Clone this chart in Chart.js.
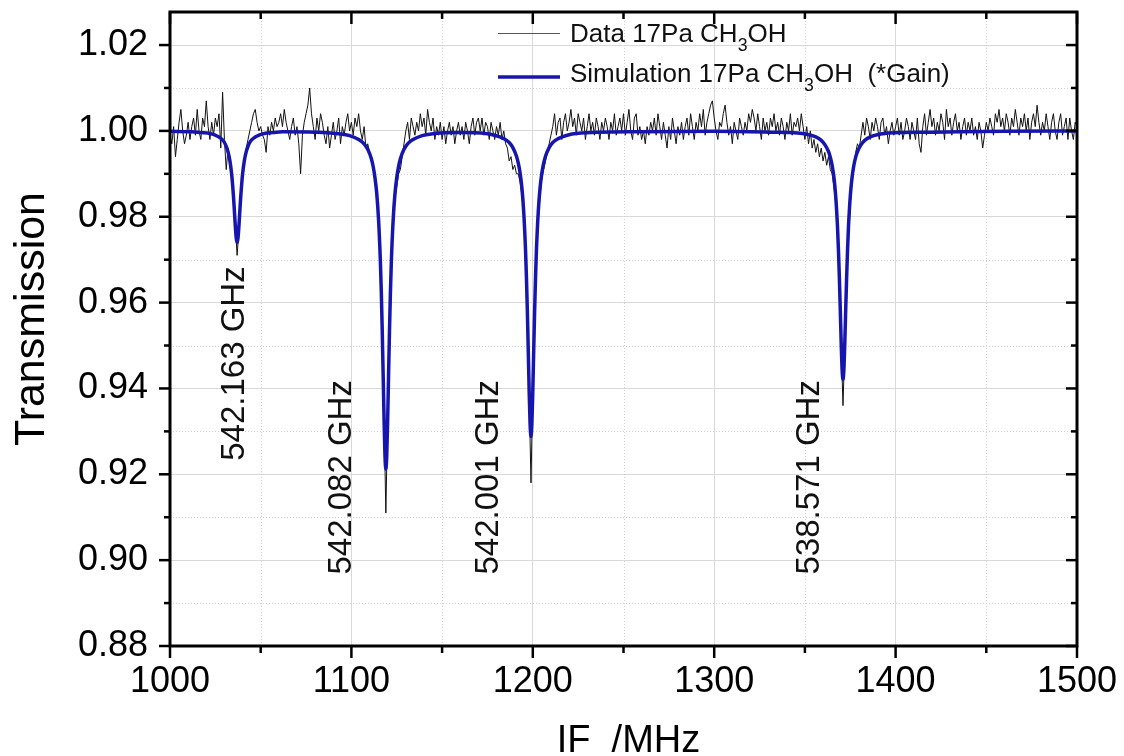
<!DOCTYPE html>
<html>
<head>
<meta charset="utf-8">
<script src="https://cdn.jsdelivr.net/npm/chart.js@4.4.0/dist/chart.umd.min.js"></script>
<style>
  html, body { margin: 0; padding: 0; background: #fff; }
  #chart { display: block; }
</style>
</head>
<body>
<canvas id="chart" width="1124" height="756"></canvas>
<script>
// Measured spectrum: one sample per MHz, 1000 ... 1500 MHz
const dataStart = 1000;
const dataStep = 1;
const dataTransmission = [
  0.999, 0.997, 1.001, 0.994, 0.998, 1.002, 1.005, 1.000, 0.997, 0.999,
  1.002, 0.998, 1.001, 1.003, 0.999, 1.005, 1.000, 0.998, 1.003, 1.001,
  1.007, 1.001, 0.998, 1.002, 0.999, 1.003, 1.001, 1.004, 0.996, 1.009,
  0.998, 0.991, 0.996, 0.992, 0.989, 0.985, 0.978, 0.971, 0.977, 0.985,
  0.989, 0.993, 0.996, 0.998, 1.000, 1.002, 1.004, 1.005, 1.002, 1.000,
  1.001, 0.999, 0.998, 0.995, 1.001, 0.999, 1.002, 1.000, 1.003, 1.001,
  1.002, 1.004, 1.001, 1.005, 1.002, 1.000, 0.998, 1.001, 1.003, 0.999,
  1.001, 0.997, 0.990, 0.999, 1.002, 1.004, 1.006, 1.010, 1.004, 1.001,
  0.998, 1.003, 1.000, 1.004, 1.002, 0.999, 0.997, 1.001, 0.996, 0.999,
  1.002, 0.998, 1.000, 1.003, 0.997, 1.001, 0.999, 1.002, 1.004, 1.000,
  1.002, 0.999, 1.003, 1.001, 1.004, 1.000, 0.998, 1.001, 0.996, 0.997,
  0.995, 0.994, 0.991, 0.988, 0.985, 0.979, 0.969, 0.954, 0.933, 0.911,
  0.934, 0.953, 0.968, 0.977, 0.984, 0.987, 0.990, 0.991, 0.994, 0.997,
  1.000, 1.002, 0.998, 1.003, 1.001, 0.999, 1.002, 1.000, 1.004, 1.001,
  1.003, 0.999, 1.005, 1.002, 1.000, 1.003, 0.998, 1.001, 0.999, 1.002,
  0.998, 1.001, 0.997, 1.000, 1.002, 0.999, 1.001, 0.997, 1.000, 1.002,
  0.999, 1.001, 0.998, 1.002, 1.000, 0.997, 1.001, 1.003, 0.999, 1.002,
  1.003, 1.000, 1.003, 0.999, 1.002, 1.001, 0.998, 1.002, 1.000, 0.998,
  1.001, 0.999, 1.002, 0.998, 1.000, 0.997, 0.996, 0.993, 0.994, 0.991,
  0.992, 0.990, 0.990, 0.988, 0.985, 0.980, 0.971, 0.957, 0.938, 0.918,
  0.940, 0.957, 0.970, 0.979, 0.985, 0.989, 0.991, 0.993, 0.995, 0.997,
  0.999, 1.001, 1.004, 0.999, 1.002, 1.003, 0.998, 1.002, 1.004, 1.000,
  1.002, 1.005, 1.001, 1.003, 0.999, 1.004, 1.002, 1.000, 1.003, 0.998,
  1.001, 1.004, 1.000, 1.002, 0.999, 1.003, 1.001, 0.998, 1.002, 1.000,
  1.003, 1.001, 0.998, 1.002, 1.000, 1.004, 0.999, 1.001, 1.003, 1.000,
  1.004, 0.999, 1.002, 1.005, 1.000, 0.998, 1.003, 1.004, 0.999, 1.001,
  0.998, 1.000, 0.997, 1.001, 0.999, 1.002, 1.000, 1.003, 0.999, 1.004,
  1.001, 0.998, 1.002, 0.999, 0.996, 1.001, 0.998, 1.003, 1.000, 0.997,
  1.001, 0.999, 1.002, 0.998, 1.001, 1.003, 0.999, 1.004, 1.001, 0.998,
  1.002, 1.000, 1.004, 1.001, 1.005, 0.999, 1.002, 1.004, 1.006, 1.007,
  1.003, 1.000, 0.998, 1.002, 1.001, 1.004, 1.006, 1.002, 0.999, 1.001,
  0.997, 1.002, 1.000, 0.998, 1.003, 1.001, 0.999, 1.002, 1.000, 1.004,
  1.002, 1.005, 1.003, 1.000, 1.004, 1.001, 0.998, 1.003, 1.000, 1.002,
  0.999, 1.003, 1.001, 1.004, 1.000, 1.002, 0.999, 1.003, 1.001, 0.998,
  1.002, 1.000, 1.004, 0.999, 1.002, 1.001, 1.003, 1.000, 1.004, 1.001,
  0.998, 1.001, 0.997, 1.000, 0.996, 0.998, 0.995, 0.997, 0.994, 0.996,
  0.993, 0.995, 0.992, 0.994, 0.991, 0.990, 0.987, 0.983, 0.976, 0.964,
  0.950, 0.936, 0.950, 0.964, 0.975, 0.983, 0.988, 0.991, 0.995, 0.997,
  0.996, 0.999, 1.002, 0.999, 1.003, 1.001, 0.998, 1.002, 1.000, 1.003,
  1.001, 0.998, 1.002, 1.003, 0.999, 1.001, 0.997, 1.000, 1.002, 0.999,
  1.001, 1.003, 0.999, 1.002, 0.998, 1.000, 1.003, 1.001, 0.998, 1.002,
  1.000, 0.998, 1.003, 0.997, 0.995, 1.001, 1.004, 0.999, 1.002, 1.005,
  1.001, 1.003, 0.999, 1.002, 1.000, 1.004, 1.002, 0.998, 1.005, 1.001,
  1.003, 0.999, 1.002, 1.004, 1.000, 1.002, 0.998, 1.001, 1.003, 0.999,
  1.002, 1.000, 1.003, 0.999, 1.001, 0.998, 1.002, 1.000, 0.996, 0.999,
  1.002, 1.000, 1.003, 1.001, 0.999, 1.004, 1.002, 1.005, 1.001, 1.003,
  1.000, 1.004, 1.002, 0.999, 1.003, 1.001, 1.005, 1.002, 0.999, 1.003,
  1.001, 1.004, 1.000, 1.003, 0.998, 1.002, 1.004, 1.001, 1.006, 1.002,
  0.999, 1.002, 1.000, 1.004, 1.001, 0.998, 1.002, 1.004, 1.000, 0.998,
  1.002, 1.004, 0.999, 1.001, 1.003, 0.998, 1.003, 1.000, 0.998, 1.002,
  1.001
];

// Simulated profile
const simIF = [
  1000,
  1012, 1017, 1022, 1025, 1027, 1029, 1030, 1031, 1032, 1033, 1034, 1034.5, 1035, 1035.5, 1036, 1036.5,
  1037, 1037.5, 1038, 1038.5, 1039, 1039.5, 1040, 1041, 1042, 1043, 1044, 1045, 1047, 1049, 1052, 1057, 1062,
  1080,
  1094, 1099, 1104, 1107, 1109, 1111, 1112, 1113, 1114, 1115, 1116, 1116.5, 1117, 1117.5, 1118, 1118.5,
  1119, 1119.5, 1120, 1120.5, 1121, 1121.5, 1122, 1123, 1124, 1125, 1126, 1127, 1129, 1131, 1134, 1139, 1144,
  1160,
  1174, 1179, 1184, 1187, 1189, 1191, 1192, 1193, 1194, 1195, 1196, 1196.5, 1197, 1197.5, 1198, 1198.5,
  1199, 1199.5, 1200, 1200.5, 1201, 1201.5, 1202, 1203, 1204, 1205, 1206, 1207, 1209, 1211, 1214, 1219, 1224,
  1260, 1300, 1330,
  1346, 1351, 1356, 1359, 1361, 1363, 1364, 1365, 1366, 1367, 1368, 1368.5, 1369, 1369.5, 1370, 1370.5,
  1371, 1371.5, 1372, 1372.5, 1373, 1373.5, 1374, 1375, 1376, 1377, 1378, 1379, 1381, 1383, 1386, 1391, 1396,
  1420, 1460, 1500
];
const simTransmission = [
  0.9999,
  0.9998, 0.9996, 0.9994, 0.9990, 0.9986, 0.9979, 0.9973, 0.9964, 0.9951, 0.9931, 0.9899, 0.9875, 0.9847, 0.9813, 0.9779, 0.9751,
  0.9740, 0.9751, 0.9779, 0.9813, 0.9847, 0.9875, 0.9899, 0.9931, 0.9951, 0.9964, 0.9973, 0.9979, 0.9986, 0.9990, 0.9994, 0.9996, 0.9998,
  0.9997,
  0.9993, 0.9989, 0.9980, 0.9970, 0.9957, 0.9935, 0.9917, 0.9891, 0.9853, 0.9791, 0.9693, 0.9622, 0.9535, 0.9433, 0.9329, 0.9245,
  0.9212, 0.9245, 0.9329, 0.9433, 0.9535, 0.9622, 0.9693, 0.9791, 0.9853, 0.9891, 0.9917, 0.9935, 0.9957, 0.9970, 0.9980, 0.9989, 0.9993,
  0.9996,
  0.9994, 0.9990, 0.9982, 0.9973, 0.9961, 0.9941, 0.9925, 0.9902, 0.9867, 0.9811, 0.9722, 0.9658, 0.9580, 0.9488, 0.9393, 0.9318,
  0.9288, 0.9318, 0.9393, 0.9488, 0.9580, 0.9658, 0.9722, 0.9811, 0.9867, 0.9902, 0.9925, 0.9941, 0.9961, 0.9973, 0.9982, 0.9990, 0.9994,
  0.9998, 0.9999, 0.9997,
  0.9995, 0.9992, 0.9986, 0.9978, 0.9968, 0.9952, 0.9939, 0.9920, 0.9892, 0.9847, 0.9774, 0.9722, 0.9658, 0.9584, 0.9507, 0.9445,
  0.9421, 0.9445, 0.9507, 0.9584, 0.9658, 0.9722, 0.9774, 0.9847, 0.9892, 0.9920, 0.9939, 0.9952, 0.9968, 0.9978, 0.9986, 0.9992, 0.9995,
  0.9997, 0.9999, 1.0000
];

// Line identifications
const peakLabels = ['542.163 GHz', '542.082 GHz', '542.001 GHz', '538.571 GHz'];
const peakLabelIF = [1036, 1095, 1176, 1353];
const peakLabelLevel = [0.9458, 0.9193, 0.9193, 0.9193];

// Axes
const xTicks = [1000, 1100, 1200, 1300, 1400, 1500];
const xMinorTicks = [1050, 1150, 1250, 1350, 1450];
const yTicks = [0.88, 0.90, 0.92, 0.94, 0.96, 0.98, 1.00, 1.02];
const yMinorTicks = [0.89, 0.91, 0.93, 0.95, 0.97, 0.99, 1.01];

const FONT = "'Liberation Sans', Arial, Helvetica, sans-serif";
const SIM_BLUE = '#1616ae';

const dataPoints = dataTransmission.map((v, i) => ({ x: dataStart + i * dataStep, y: v }));
const simPoints = simIF.map((x, i) => ({ x: x, y: simTransmission[i] }));

// write text with a subscript part, returns end x
function drawRich(ctx, parts, x, y, size) {
  parts.forEach(p => {
    if (p.sub) {
      ctx.font = (size * 0.68) + 'px ' + FONT;
      ctx.fillText(p.t, x, y + size * 0.42);
    } else {
      ctx.font = size + 'px ' + FONT;
      ctx.fillText(p.t, x, y);
    }
    x += ctx.measureText(p.t).width;
  });
  return x;
}

const decorations = {
  id: 'decorations',
  beforeDatasetsDraw(chart) {
    const { ctx, chartArea: a, scales: { x, y } } = chart;
    ctx.save();
    ctx.strokeStyle = '#cfcfcf';
    ctx.lineWidth = 1;
    ctx.setLineDash([1, 2]);
    xMinorTicks.forEach(v => {
      const px = Math.round(x.getPixelForValue(v)) + 0.5;
      ctx.beginPath(); ctx.moveTo(px, a.top); ctx.lineTo(px, a.bottom); ctx.stroke();
    });
    yMinorTicks.forEach(v => {
      const py = Math.round(y.getPixelForValue(v)) + 0.5;
      ctx.beginPath(); ctx.moveTo(a.left, py); ctx.lineTo(a.right, py); ctx.stroke();
    });
    ctx.restore();
  },
  afterDraw(chart) {
    const { ctx, chartArea: a, scales: { x, y } } = chart;
    ctx.save();

    // frame
    ctx.strokeStyle = '#000';
    ctx.lineWidth = 3;
    ctx.setLineDash([]);
    ctx.strokeRect(a.left, a.top, a.right - a.left, a.bottom - a.top);

    // tick marks: outward on bottom/left, inward on top/right
    ctx.lineWidth = 2.5;
    function xTick(v, len) {
      const px = x.getPixelForValue(v);
      ctx.beginPath(); ctx.moveTo(px, a.bottom); ctx.lineTo(px, a.bottom + len); ctx.stroke();
      ctx.beginPath(); ctx.moveTo(px, a.top); ctx.lineTo(px, a.top + len); ctx.stroke();
    }
    function yTick(v, len) {
      const py = y.getPixelForValue(v);
      ctx.beginPath(); ctx.moveTo(a.left, py); ctx.lineTo(a.left - len, py); ctx.stroke();
      ctx.beginPath(); ctx.moveTo(a.right, py); ctx.lineTo(a.right - len, py); ctx.stroke();
    }
    xTicks.forEach(v => xTick(v, 12));
    xMinorTicks.forEach(v => xTick(v, 7));
    yTicks.forEach(v => yTick(v, 11));
    yMinorTicks.forEach(v => yTick(v, 6));

    // legend
    ctx.fillStyle = '#111';
    ctx.textBaseline = 'middle';
    ctx.textAlign = 'left';
    ctx.strokeStyle = '#555';
    ctx.lineWidth = 1;
    ctx.beginPath(); ctx.moveTo(498, 33.5); ctx.lineTo(560, 33.5); ctx.stroke();
    drawRich(ctx, [{ t: 'Data 17Pa CH' }, { t: '3', sub: true }, { t: 'OH' }], 570, 35, 26);
    ctx.strokeStyle = SIM_BLUE;
    ctx.lineWidth = 3.5;
    ctx.beginPath(); ctx.moveTo(498, 77); ctx.lineTo(560, 77); ctx.stroke();
    drawRich(ctx, [{ t: 'Simulation 17Pa CH' }, { t: '3', sub: true }, { t: 'OH  (*Gain)' }], 570, 75, 26);

    // rotated line labels
    ctx.font = '33px ' + FONT;
    ctx.textAlign = 'center';
    peakLabels.forEach((t, i) => {
      ctx.save();
      ctx.translate(x.getPixelForValue(peakLabelIF[i]), y.getPixelForValue(peakLabelLevel[i]));
      ctx.rotate(-Math.PI / 2);
      ctx.fillText(t, 0, 0);
      ctx.restore();
    });

    // axis titles
    ctx.fillStyle = '#000';
    ctx.font = '43px ' + FONT;
    ctx.save();
    ctx.translate(32, 319);
    ctx.rotate(-Math.PI / 2);
    ctx.fillText('Transmission', 0, 0);
    ctx.restore();
    ctx.font = '38px ' + FONT;
    ctx.textBaseline = 'alphabetic';
    ctx.fillText('IF  /MHz', (a.left + a.right) / 2 + 5, 752);

    ctx.restore();
  }
};

new Chart(document.getElementById('chart'), {
  type: 'line',
  data: {
    datasets: [
      {
        label: 'Simulation 17Pa CH3OH (*Gain)',
        data: simPoints,
        borderColor: SIM_BLUE,
        borderWidth: 3.5,
        pointRadius: 0,
        cubicInterpolationMode: 'monotone',
        order: 0
      },
      {
        label: 'Data 17Pa CH3OH',
        data: dataPoints,
        borderColor: '#111',
        borderWidth: 1,
        pointRadius: 0,
        tension: 0,
        order: 1
      }
    ]
  },
  options: {
    responsive: false,
    animation: false,
    devicePixelRatio: 1,
    layout: { padding: { left: 0, top: 12, right: 47, bottom: 0 } },
    plugins: {
      legend: { display: false },
      tooltip: { enabled: false }
    },
    scales: {
      x: {
        type: 'linear',
        min: 1000,
        max: 1500,
        afterBuildTicks: s => { s.ticks = xTicks.map(v => ({ value: v })); },
        afterFit: s => {
          s.height = 110;
          s.paddingLeft = 0; s.paddingRight = 0;
        },
        ticks: {
          font: { family: FONT, size: 36 },
          color: '#000',
          padding: 14,
          maxRotation: 0,
          callback: v => String(v)
        },
        grid: { color: '#d9d9d9', lineWidth: 1, drawTicks: false },
        border: { display: false }
      },
      y: {
        type: 'linear',
        min: 0.88,
        max: 1.0277,
        afterBuildTicks: s => { s.ticks = yTicks.map(v => ({ value: v })); },
        afterFit: s => {
          s.width = 170;
          s.paddingTop = 0; s.paddingBottom = 0;
        },
        ticks: {
          font: { family: FONT, size: 36 },
          color: '#000',
          padding: 22,
          callback: v => v.toFixed(2)
        },
        grid: { color: '#d9d9d9', lineWidth: 1, drawTicks: false },
        border: { display: false }
      }
    }
  },
  plugins: [decorations]
});
</script>
</body>
</html>
